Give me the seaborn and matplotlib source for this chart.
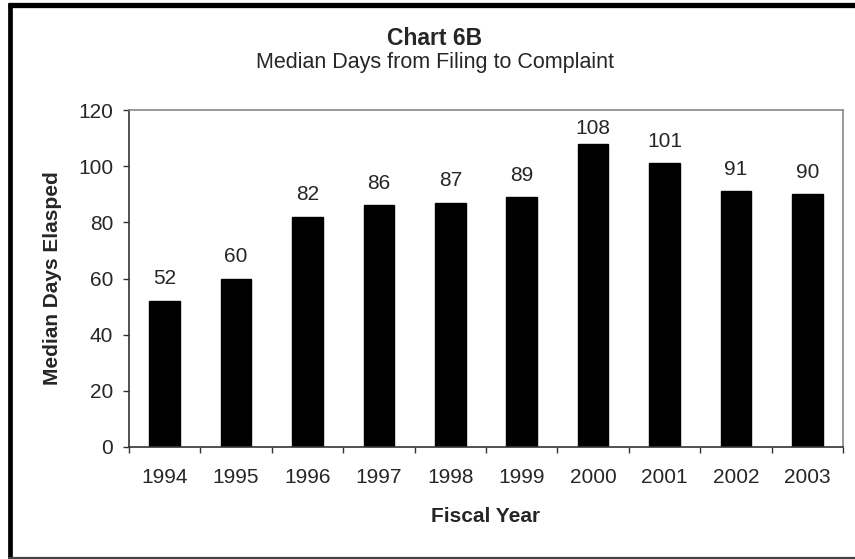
import matplotlib
matplotlib.use("Agg")
import matplotlib.pyplot as plt
import seaborn as sns
import pandas as pd
from matplotlib.lines import Line2D

years = ["1994", "1995", "1996", "1997", "1998", "1999", "2000", "2001", "2002", "2003"]
median_days = [52, 60, 82, 86, 87, 89, 108, 101, 91, 90]
y_ticks = [0, 20, 40, 60, 80, 100, 120]

sns.set_style("white")
plt.rcParams['font.family'] = ['Liberation Sans', 'DejaVu Sans']

W, H = 855, 559
fig = plt.figure(figsize=(W / 100, H / 100), dpi=100)
ax_h_px = 447 - 110
ax = fig.add_axes([129 / W, 1 - 447 / H, (843 - 129) / W, ax_h_px / H])

df = pd.DataFrame({"year": years, "days": median_days})
sns.barplot(data=df, x="year", y="days", color="black", width=0.43, ax=ax,
            saturation=1, edgecolor="black")

ymax = 120
ax.set_xlim(-0.5, len(years) - 0.5)
ax.set_ylim(0, ymax)
ax.set_yticks(y_ticks)
ax.set_yticklabels([str(t) for t in y_ticks], fontsize=15)
ax.set_xticks([i + 0.5 for i in range(-1, len(years))], minor=False)
ax.set_xticklabels([])
ax.set_xticks(range(len(years)), minor=True)
ax.set_xticklabels(years, minor=True, fontsize=15)
ax.tick_params(axis="x", which="major", length=4.5, width=1, color="#333333",
               direction="out", bottom=True)
ax.tick_params(axis="x", which="minor", length=0, pad=15, bottom=False)
ax.tick_params(axis="y", length=4.5, width=1, color="#333333", direction="out",
               pad=7, left=True)

for s in ["top", "right"]:
    ax.spines[s].set_color("#888888")
    ax.spines[s].set_linewidth(1.2)
for s in ["left", "bottom"]:
    ax.spines[s].set_color("#333333")
    ax.spines[s].set_linewidth(1.2)

# value labels: normal gap above bar, pushed down when near the top of the plot
for i, v in enumerate(median_days):
    room_px = (ymax - v) / ymax * ax_h_px
    gap_px = min(16.5, room_px - 24)
    ax.annotate(str(v), (i, v), xytext=(0, gap_px * 0.72), textcoords="offset points",
                ha="center", va="baseline", fontsize=15)

ax.set_xlabel("")
ax.set_ylabel("")
fig.text(486 / W, 1 - 521.5 / H, "Fiscal Year", ha="center", va="baseline",
         fontsize=15, fontweight="bold")
fig.text(53 / W, 1 - 278.5 / H, "Median Days Elasped", ha="center", va="center",
         rotation=90, fontsize=15, fontweight="bold")

fig.text(435 / W, 1 - 45 / H, "Chart 6B", ha="center", va="baseline",
         fontsize=16.5, fontweight="bold")
fig.text(435 / W, 1 - 68 / H, "Median Days from Filing to Complaint",
         ha="center", va="baseline", fontsize=15.5)

def fx(px):
    return px / W

def fy(py):
    return 1 - py / H

fig.add_artist(Line2D([fx(8), fx(855)], [fy(5), fy(5)], transform=fig.transFigure,
                      color="black", linewidth=3.8, solid_capstyle="butt"))
fig.add_artist(Line2D([fx(10.4), fx(10.4)], [fy(3), fy(559)], transform=fig.transFigure,
                      color="black", linewidth=3.4, solid_capstyle="butt"))
fig.add_artist(Line2D([fx(8), fx(855)], [fy(557.6), fy(557.6)], transform=fig.transFigure,
                      color="#444444", linewidth=1.6, solid_capstyle="butt"))

fig.savefig("out.png", dpi=100)
